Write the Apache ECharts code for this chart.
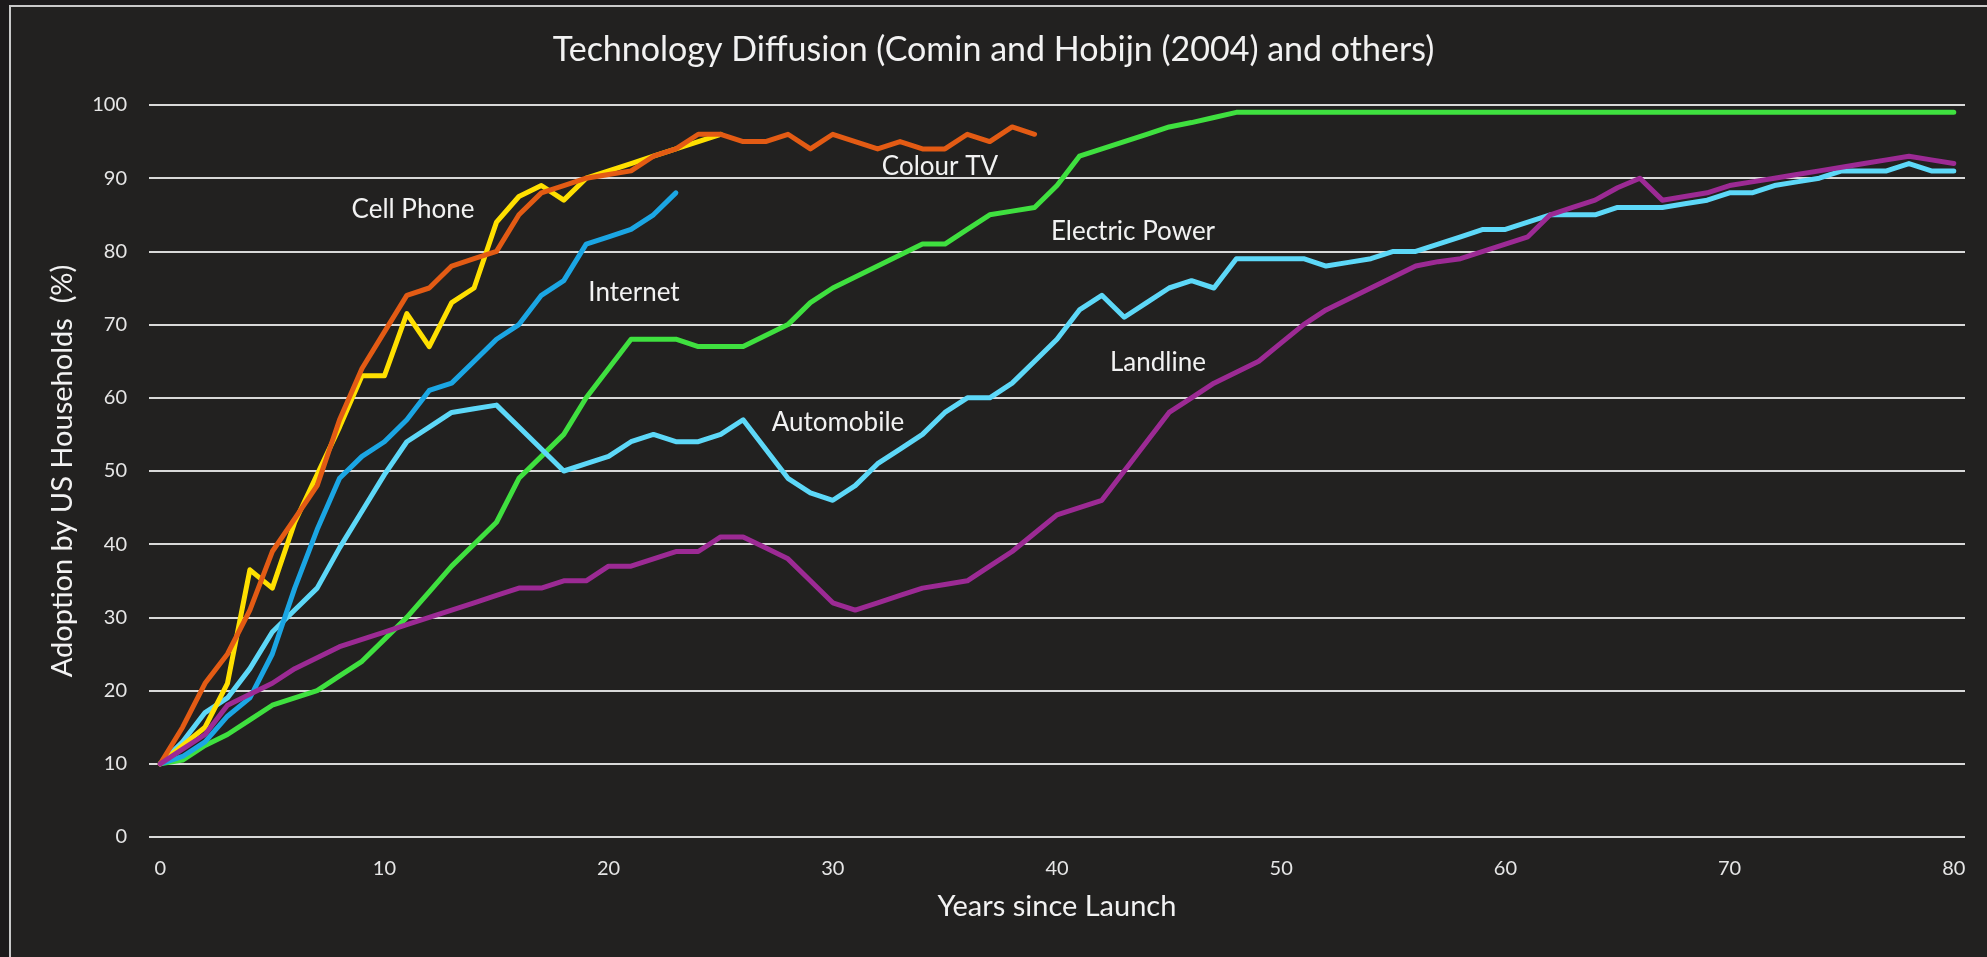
<!DOCTYPE html>
<html>
<head>
<meta charset="utf-8">
<script src="https://cdn.jsdelivr.net/npm/echarts@6/dist/echarts.min.js"></script>
<style>
  html, body { margin: 0; padding: 0; background: #1c1a1b; }
  #frame {
    position: absolute; left: 9px; top: 5px; width: 1990px; height: 960px;
    background: #222120; border-left: 2px solid #c9c9c9; border-top: 2px solid #c9c9c9;
  }
  #chart { position: absolute; left: 0; top: 0; width: 1987px; height: 957px; }
</style>
</head>
<body>
<div id="frame"></div>
<div id="chart"></div>
<script>
// years since launch, 0..80
const years = [];
for (let i = 0; i <= 80; i++) years.push(String(i));

const yTicks = [0, 10, 20, 30, 40, 50, 60, 70, 80, 90, 100];

const cellPhone = [10, 12.5, 15, 21, 36.5, 34, 43, 49.5, 56, 63, 63, 71.5, 67, 73, 75, 84,
  87.5, 89, 87, 90, 91, 92, 93, 94, 95, 96];

const colourTV = [10, 15, 21, 25, 31, 39, 43.5, 48, 57, 64, 69, 74, 75, 78, 79, 80,
  85, 88, 89, 90, 90.5, 91, 93, 94, 96, 96, 95, 95, 96, 94, 96, 95, 94, 95, 94, 94,
  96, 95, 97, 96];

const internet = [10, 11, 13, 16.5, 19, 25, 34, 42, 49, 52, 54, 57, 61, 62, 65, 68,
  70, 74, 76, 81, 82, 83, 85, 88];

const electricPower = [10, 10.5, 12.5, 14, 16, 18, 19, 20, 22, 24, 27, 30, 33.5, 37, 40, 43,
  49, 52, 55, 60, 64, 68, 68, 68, 67, 67, 67, 68.5, 70, 73, 75, 76.5, 78, 79.5, 81, 81,
  83, 85, 85.5, 86, 89, 93, 94, 95, 96, 97, 97.6, 98.3, 99, 99, 99, 99, 99, 99, 99, 99,
  99, 99, 99, 99, 99, 99, 99, 99, 99, 99, 99, 99, 99, 99, 99, 99, 99, 99, 99, 99,
  99, 99, 99, 99, 99];

const automobile = [10, 13, 17, 19, 23, 28, 31, 34, 39.5, 44.5, 49.5, 54, 56, 58, 58.5, 59,
  56, 53, 50, 51, 52, 54, 55, 54, 54, 55, 57, 53, 49, 47, 46, 48, 51, 53, 55, 58,
  60, 60, 62, 65, 68, 72, 74, 71, 73, 75, 76, 75, 79, 79, 79, 79, 78, 78.5, 79, 80,
  80, 81, 82, 83, 83, 84, 85, 85, 85, 86, 86, 86, 86.5, 87, 88, 88, 89, 89.5, 90, 91,
  91, 91, 92, 91, 91];

const landline = [10, 12, 14, 18, 19.5, 21, 23, 24.5, 26, 27, 28, 29, 30, 31, 32, 33,
  34, 34, 35, 35, 37, 37, 38, 39, 39, 41, 41, 39.5, 38, 35, 32, 31, 32, 33, 34, 34.5,
  35, 37, 39, 41.5, 44, 45, 46, 50, 54, 58, 60, 62, 63.5, 65, 67.5, 70, 72, 73.5, 75, 76.5,
  78, 78.6, 79, 80, 81, 82, 85, 86, 87, 88.7, 90, 87, 87.5, 88, 89, 89.5, 90, 90.5, 91, 91.5,
  92, 92.5, 93, 92.5, 92];

const seriesNames = ['Cell Phone', 'Colour TV', 'Internet', 'Electric Power', 'Automobile', 'Landline'];
const seriesData = [cellPhone, colourTV, internet, electricPower, automobile, landline];
const seriesColors = ['#ffe000', '#e35b14', '#1ba6e4', '#3fe03f', '#5dd8f8', '#9c2a94'];
// draw order as in the original (landline on top of the bundle at the origin)
const drawOrder = [3, 4, 2, 0, 1, 5];

// in-chart labels: [text, centre x, centre y]
const labels = [
  ['Cell Phone', 413, 210],
  ['Colour TV', 940, 167],
  ['Electric Power', 1133, 232],
  ['Internet', 634, 293],
  ['Automobile', 838, 423],
  ['Landline', 1158, 363]
];

const FONT = 'Lato';
const chart = echarts.init(document.getElementById('chart'));

chart.setOption({
  backgroundColor: 'transparent',
  animation: false,
  title: {
    text: 'Technology Diffusion (Comin and Hobijn (2004) and others)',
    left: 'center',
    top: 28,
    textStyle: { color: '#f2f2f2', fontFamily: FONT, fontSize: 34, fontWeight: 'normal' }
  },
  grid: { left: 149, right: 22, top: 105, bottom: 120 },
  xAxis: {
    type: 'category',
    data: years,
    boundaryGap: true,
    name: 'Years since Launch',
    nameLocation: 'middle',
    nameGap: 55,
    nameTextStyle: { color: '#f2f2f2', fontFamily: FONT, fontSize: 29 },
    axisLine: { show: false },
    axisTick: { show: false },
    axisLabel: {
      interval: 9,
      margin: 22,
      color: '#e6e6e6',
      fontFamily: FONT,
      fontSize: 20
    }
  },
  yAxis: {
    type: 'value',
    min: yTicks[0],
    max: yTicks[yTicks.length - 1],
    interval: 10,
    name: 'Adoption by US Households  (%)',
    nameLocation: 'middle',
    nameGap: 72,
    nameTextStyle: { color: '#f2f2f2', fontFamily: FONT, fontSize: 29 },
    axisLine: { show: false },
    axisTick: { show: false },
    axisLabel: { margin: 22, color: '#e6e6e6', fontFamily: FONT, fontSize: 20 },
    splitLine: { lineStyle: { color: '#d9d9d9', width: 1.8 } }
  },
  series: drawOrder.map(function (i) {
    return {
      name: seriesNames[i],
      type: 'line',
      data: seriesData[i],
      symbol: 'none',
      lineStyle: { color: seriesColors[i], width: 5, cap: 'round', join: 'round' },
      itemStyle: { color: seriesColors[i] }
    };
  }),
  graphic: labels.map(function (l) {
    return {
      type: 'text',
      x: l[1],
      y: l[2],
      style: {
        text: l[0],
        fill: '#f2f2f2',
        font: '26px ' + FONT,
        textAlign: 'center',
        textVerticalAlign: 'middle'
      }
    };
  })
});
</script>
</body>
</html>
